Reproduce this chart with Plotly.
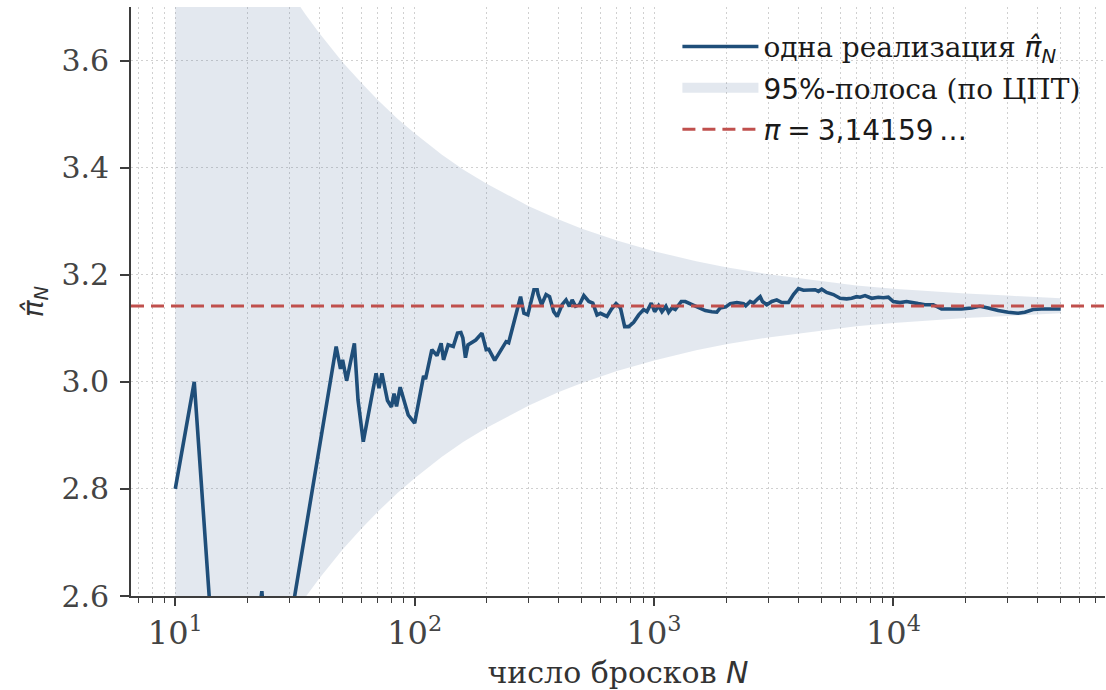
import plotly.graph_objects as go

PI = 3.14159265

# one realisation of the Monte-Carlo estimate
N_sim = [10, 12, 14, 17, 20, 22, 23, 24, 27, 31,
         47, 49, 50, 52, 56, 58, 61, 69, 71, 73,
         77, 80, 82, 84, 87, 90, 94, 100, 106, 109,
         111, 118, 124, 129, 132, 138, 145, 151, 156, 159,
         163, 167, 180, 191, 199, 204, 216, 241, 247, 262,
         277, 286, 297, 315, 325, 328, 339, 354, 366, 381,
         394, 413, 429, 443, 455, 470, 488, 509, 534, 555,
         578, 597, 636, 664, 694, 724, 754, 784, 822, 863,
         905, 934, 974, 1006, 1045, 1079, 1121, 1151, 1188, 1227,
         1300, 1351, 1417, 1487, 1561, 1637, 1744, 1830, 1891, 1995,
         2082, 2218, 2365, 2417, 2522, 2603, 2713, 2776, 2838, 2958,
         3104, 3256, 3417, 3644, 3823, 4011, 4209, 4488, 4710, 4862,
         5018, 5263, 5614, 5987, 6379, 6694, 7023, 7257, 7612, 8111,
         8650, 9077, 9522, 9991, 10654, 11355, 12106, 12701, 13548, 14673,
         15891, 17493, 19255, 21195, 22976, 24886, 27395, 30153, 33190, 35400,
         38340, 41530, 45710, 50000]
pi_hat = [2.800, 3.000, 2.571, 2.400, 2.450, 2.545, 2.609, 2.500, 2.440, 2.580,
          3.066, 3.024, 3.041, 3.002, 3.072, 2.966, 2.888, 3.016, 2.988, 3.016,
          2.965, 2.953, 2.978, 2.954, 2.990, 2.966, 2.938, 2.923, 2.988, 3.011,
          3.005, 3.060, 3.049, 3.072, 3.041, 3.069, 3.066, 3.091, 3.092, 3.082,
          3.045, 3.069, 3.078, 3.091, 3.060, 3.061, 3.040, 3.075, 3.073, 3.116,
          3.159, 3.128, 3.125, 3.172, 3.172, 3.163, 3.144, 3.163, 3.159, 3.131,
          3.122, 3.144, 3.153, 3.141, 3.153, 3.141, 3.144, 3.161, 3.150, 3.147,
          3.125, 3.128, 3.122, 3.136, 3.146, 3.138, 3.103, 3.103, 3.111, 3.125,
          3.135, 3.131, 3.147, 3.131, 3.142, 3.131, 3.141, 3.130, 3.138, 3.135,
          3.150, 3.150, 3.146, 3.142, 3.138, 3.133, 3.131, 3.130, 3.138, 3.140,
          3.146, 3.148, 3.146, 3.142, 3.150, 3.147, 3.155, 3.159, 3.150, 3.144,
          3.150, 3.153, 3.148, 3.148, 3.163, 3.174, 3.171, 3.171, 3.172, 3.169,
          3.173, 3.167, 3.163, 3.156, 3.155, 3.156, 3.159, 3.158, 3.161, 3.156,
          3.158, 3.157, 3.158, 3.150, 3.148, 3.150, 3.147, 3.146, 3.144, 3.144,
          3.136, 3.136, 3.136, 3.138, 3.141, 3.138, 3.133, 3.130, 3.128, 3.130,
          3.135, 3.136, 3.136, 3.136]

# 95% band (CLT) edges
N_band = [10, 12, 15, 20, 25, 30, 35, 40, 50, 60, 70, 85, 100, 130, 160, 200,
          250, 300, 400, 500, 700, 1000, 1500, 2000, 3000, 5000, 7000, 10000,
          15000, 20000, 30000, 50000]
band_upper = [4.160, 4.071, 3.973, 3.862, 3.786, 3.730, 3.686, 3.651, 3.597, 3.558,
              3.527, 3.491, 3.464, 3.424, 3.396, 3.370, 3.346, 3.328, 3.303, 3.286,
              3.264, 3.244, 3.225, 3.214, 3.201, 3.188, 3.180, 3.174, 3.168, 3.165,
              3.161, 3.156]
band_lower = [2.124, 2.213, 2.311, 2.422, 2.498, 2.554, 2.598, 2.633, 2.687, 2.726,
              2.757, 2.793, 2.820, 2.860, 2.888, 2.914, 2.938, 2.956, 2.981, 2.998,
              3.020, 3.040, 3.059, 3.070, 3.083, 3.096, 3.104, 3.110, 3.116, 3.119,
              3.123, 3.128]

x_tickvals = [10, 100, 1000, 10000]
x_ticktext = ["10<sup>1</sup>", "10<sup>2</sup>", "10<sup>3</sup>", "10<sup>4</sup>"]
y_tickvals = [2.6, 2.8, 3.0, 3.2, 3.4, 3.6]
y_ticktext = ["2.6", "2.8", "3.0", "3.2", "3.4", "3.6"]
x_minor = [m * 10 ** k for k in range(0, 5) for m in range(2, 10)]

LINE_C = "#1f4e79"
PI_C = "#c0504d"
BAND_C = "rgba(100,125,165,0.18)"
AX_C = "#3d3d3d"
GRID_C = "#d0d0d0"
GRID_DASH = "1.5px,3.5px"
SANS = "DejaVu Sans"
SERIF = "DejaVu Serif"

fig = go.Figure()

fig.add_trace(go.Scatter(x=N_band, y=band_lower, mode="lines", line=dict(width=0),
                         showlegend=False, hoverinfo="skip"))
fig.add_trace(go.Scatter(x=N_band, y=band_upper, mode="lines", line=dict(width=0),
                         fill="tonexty", fillcolor=BAND_C, showlegend=False, hoverinfo="skip"))
# legend proxy for the band (wide patch)
fig.add_trace(go.Scatter(x=[None], y=[None], mode="lines",
                         line=dict(color=BAND_C, width=26),
                         legendgroup="b", legendrank=2,
                         name="<span style='font-family:DejaVu Sans'>95%</span>-полоса (по ЦПТ)"))
fig.add_trace(go.Scatter(x=N_sim, y=pi_hat, mode="lines", line=dict(color=LINE_C, width=3.6),
                         legendgroup="a", legendrank=1,
                         name="одна реализация <span style='font-family:DejaVu Sans'><i>π̂</i><sub><i>N</i></sub></span>"))
fig.add_hline(y=PI, line=dict(color=PI_C, width=3, dash="13px,7px"), layer="above")
fig.add_trace(go.Scatter(x=[None], y=[None], mode="lines",
                         line=dict(color=PI_C, width=3, dash="13px,7px"),
                         legendgroup="c", legendrank=3,
                         name="<span style='font-family:DejaVu Sans'><i>π</i>\u2005=\u20053,14159\u2009…</span>"))

fig.update_layout(
    width=1106, height=690,
    margin=dict(l=131, r=1, t=7, b=94),
    plot_bgcolor="white", paper_bgcolor="white",
    font=dict(family=SERIF, color="#222222"),
    legend=dict(x=0.561, y=0.975, xanchor="left", yanchor="top",
                bgcolor="rgba(0,0,0,0)", font=dict(size=28, family=SERIF, color="#1a1a1a"),
                traceorder="grouped", tracegroupgap=2, itemwidth=76),
    showlegend=True,
)

fig.update_xaxes(
    type="log", range=[0.815, 4.884],
    tickvals=x_tickvals, ticktext=x_ticktext,
    ticks="outside", ticklen=8, tickwidth=1.6, tickcolor=AX_C,
    tickfont=dict(family=SERIF, size=32, color="#444444"),
    showline=True, linecolor=AX_C, linewidth=1.8,
    showgrid=True, gridcolor=GRID_C, griddash=GRID_DASH, gridwidth=1.2,
    minor=dict(tickvals=x_minor, ticks="outside", ticklen=5, tickwidth=1.3, tickcolor=AX_C,
               showgrid=True, gridcolor=GRID_C, griddash=GRID_DASH, gridwidth=1.2),
    zeroline=False,
    title=dict(text="число бросков <span style='font-family:DejaVu Sans'><i>N</i></span>",
               font=dict(family=SERIF, size=30, color="#333333"), standoff=12),
)
fig.update_yaxes(
    range=[2.6, 3.7],
    tickvals=y_tickvals, ticktext=y_ticktext,
    ticks="outside", ticklen=9, tickwidth=1.6, tickcolor=AX_C,
    tickfont=dict(family=SERIF, size=30, color="#444444"),
    ticklabelstandoff=5,
    showline=True, linecolor=AX_C, linewidth=1.8,
    showgrid=True, gridcolor=GRID_C, griddash=GRID_DASH, gridwidth=1.2,
    zeroline=False,
    title=dict(text="<i>π̂</i><sub><i>N</i></sub>",
               font=dict(family=SANS, size=28, color="#333333"), standoff=10),
)

fig.write_html("out.html")
